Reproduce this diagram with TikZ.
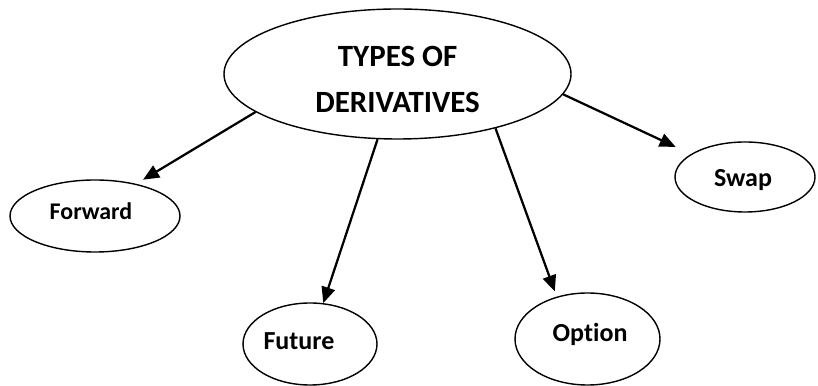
\documentclass[tikz,border=0pt]{standalone}
\usepackage{fontspec}
\setmainfont{Carlito}[Ligatures=NoCommon]
\usepackage{tikz}
\usetikzlibrary{shapes.geometric, arrows.meta, positioning}

\begin{document}
\begin{tikzpicture}[
    oval/.style={draw=black, ellipse, line width=1pt, inner sep=0pt},
    lbl/.style={font=\fontsize{18.5}{22}\selectfont\bfseries, inner sep=0pt, anchor=base},
    link/.style={-{Triangle[length=0.4cm, width=0.34cm]}, line width=1.6pt}
]
    \useasboundingbox (0,0) rectangle (20.45,9.65);

    % ovals
    \node[oval, minimum width=8.675cm, minimum height=3.25cm] (types) at (9.9375,7.8) {};
    \node[oval, minimum width=4.25cm, minimum height=1.8cm] (forward) at (2.375,4.25) {};
    \node[oval, minimum width=3.35cm, minimum height=2.05cm] (future) at (7.75,1.05) {};
    \node[oval, minimum width=3.625cm, minimum height=2.3cm] (option) at (14.6875,1.175) {};
    \node[oval, minimum width=3.5cm, minimum height=1.75cm] (swap) at (18.625,5.225) {};

    % texts
    \node[font=\fontsize{22}{33}\selectfont\bfseries, align=center, inner sep=0pt] (typestxt) at (9.94,7.66) {TYPES OF\\DERIVATIVES};
    \node[lbl, font=\fontsize{17}{20}\selectfont\bfseries] (forwardtxt) at (2.275,4.15) {Forward};
    \node[lbl] (futuretxt) at (7.475,0.9) {Future};
    \node[lbl] (optiontxt) at (14.75,1.107) {Option};
    \node[lbl] (swaptxt) at (18.575,4.975) {Swap};

    % arrows
    \draw[link, shorten >=0.2cm] (types.195.5) -- (forward.38.8);
    \draw[link] (types.253) -- (future.72.4);
    \draw[link, shorten >=0.14cm] (types.331.8) -- (option.126.9);
    \draw[link, shorten >=0.42cm] (types.353.1) -- (swap.157.2);
\end{tikzpicture}
\end{document}
